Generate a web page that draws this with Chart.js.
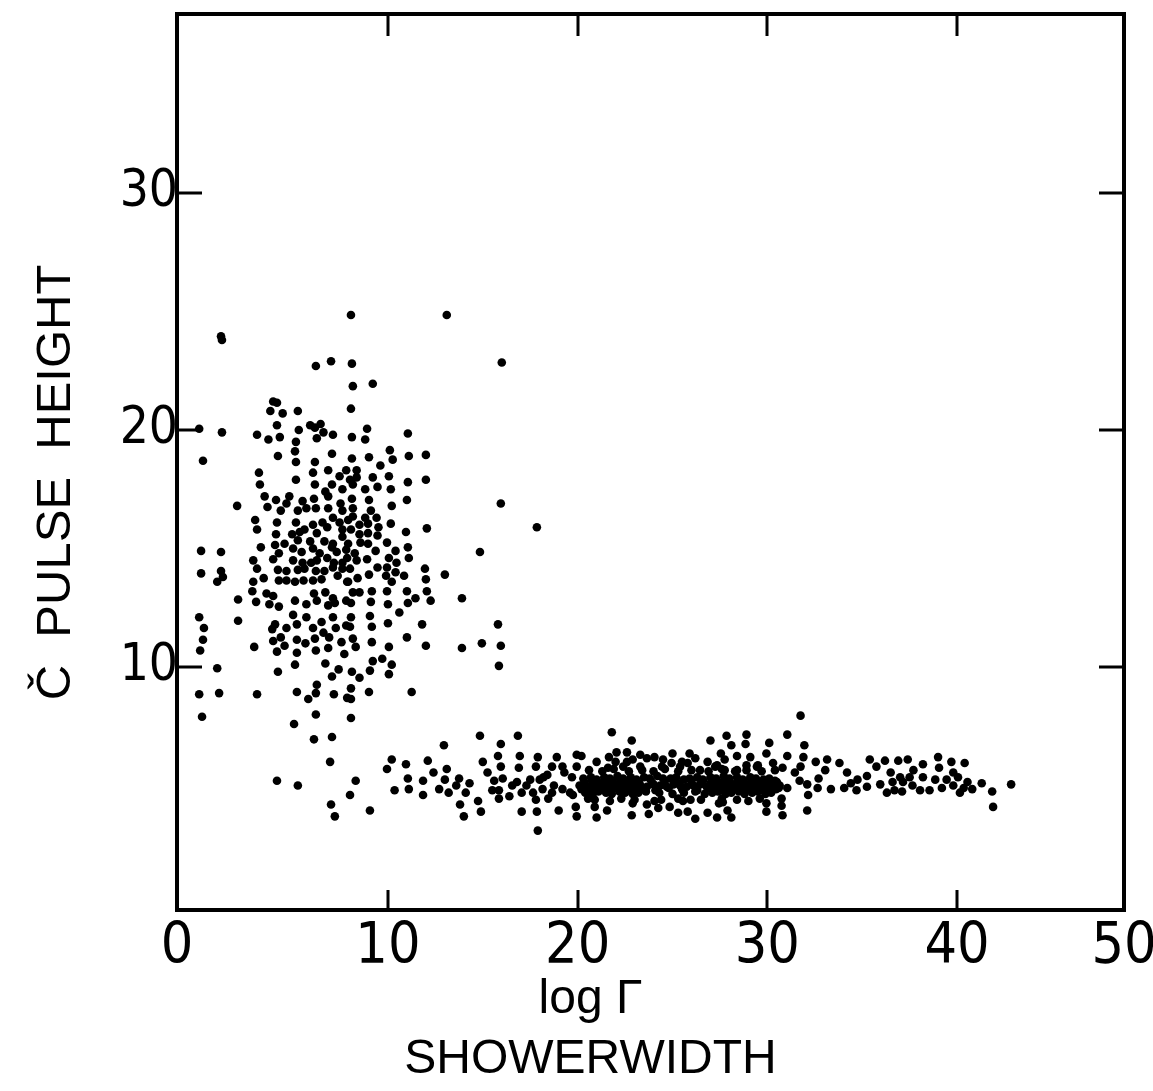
<!DOCTYPE html>
<html>
<head>
<meta charset="utf-8">
<script src="https://cdn.jsdelivr.net/npm/chart.js@4.4.1/dist/chart.umd.min.js"></script>
<style>
html,body{margin:0;padding:0;background:#fff;}
#wrap{width:1153px;height:1091px;}
</style>
</head>
<body>
<div id="wrap"><canvas id="c" width="1153" height="1091"></canvas></div>
<script>
// ---- axis definitions ----
const xTickValues = [10, 20, 30, 40];
const yTickValues = [10, 20, 30];
const xEdgeLabels = ['0', '50'];
const xRange = [-1.12, 48.8];
const yRange = [-0.25, 37.55];
const xTitle = ['log \u0393', 'SHOWERWIDTH'];
const yTitle = '\u010C  PULSE  HEIGHT';

// ---- data: [showerwidth, pulse height] ----
const clusterPoints = [
 [8.05,24.85],[1.25,23.8],[1.2,23.95],[6.2,22.7],[7.0,22.9],[3.95,21.2],[4.15,21.15],[3.8,20.8],[4.45,20.7],[5.25,20.8],
 [0.05,20.05],[1.25,19.9],[3.1,19.8],[3.7,19.6],[4.15,20.2],[4.3,19.7],[5.3,20.0],[5.9,20.2],[6.15,20.1],[6.45,20.25],
 [6.6,19.9],[7.1,19.8],[6.25,19.65],[5.15,19.5],[5.1,19.1],[0.25,18.7],[4.2,18.9],[7.05,19.0],[5.15,18.65],[6.15,18.65],
 [3.2,18.2],[5.15,17.9],[6.05,18.2],[6.85,18.3],[7.45,18.05],[7.8,18.3],[3.25,17.7],[6.15,17.7],[7.05,17.7],[7.6,17.5],
 [6.7,17.4],[6.85,17.2],[3.5,17.2],[4.1,17.05],[4.8,17.2],[4.65,16.9],[5.5,17.0],[6.1,17.1],[2.05,16.8],[3.65,16.75],
 [4.35,16.6],[5.25,16.6],[5.7,16.7],[6.2,16.7],[6.85,16.7],[7.5,16.9],[7.6,16.6],
 [13.1,24.85],[8.1,22.8],[16.0,22.85],[8.15,21.85],[9.2,21.95],[8.05,20.9],[8.9,20.05],[8.1,19.7],[8.8,19.6],[11.05,19.85],
 [10.1,19.15],[8.1,18.8],[9.0,18.85],[10.25,18.75],[11.1,18.9],[12.0,18.95],[9.6,18.5],[8.35,18.3],[8.0,17.9],[8.35,18.0],
 [8.15,17.7],[9.2,18.0],[10.05,18.05],[11.05,17.8],[12.0,17.9],[8.8,17.5],[9.45,17.6],[10.15,17.5],[8.1,17.1],[9.0,17.05],
 [11.0,17.05],[15.95,16.9],[8.15,16.7],[9.1,16.6],[10.2,16.8],[8.15,16.35],[8.8,16.3],[9.4,16.3],
 [3.0,16.2],[3.1,15.8],[4.15,16.1],[5.15,16.1],[6.05,16.0],[5.6,15.8],[6.55,16.1],[6.8,15.9],[7.1,16.3],[7.45,16.1],
 [7.6,15.8],[4.1,15.6],[4.55,15.2],[4.95,15.6],[5.35,15.7],[6.25,15.65],[5.25,15.35],[5.9,15.3],[6.65,15.3],[7.1,15.2],
 [7.6,15.5],[3.3,15.05],[4.05,15.15],[0.15,14.9],[1.2,14.85],[4.25,14.8],[5.0,15.0],[5.45,14.85],[6.05,15.0],[6.4,14.8],
 [7.05,15.05],[7.3,14.85],[7.8,14.95],[3.95,14.55],[2.9,14.5],[5.0,14.5],[5.5,14.4],[5.95,14.4],[6.25,14.5],[6.8,14.6],
 [7.15,14.4],[7.6,14.4],[3.1,14.15],[4.2,14.1],[4.65,14.05],[5.25,14.1],[5.6,14.15],[6.2,14.05],[6.65,14.05],[7.1,14.2],
 [7.6,14.15],[0.15,13.95],[1.2,14.05],[1.3,13.8],[1.0,13.6],[2.9,13.6],[3.45,13.75],[4.25,13.65],[4.65,13.65],[5.1,13.6],
 [5.55,13.65],[6.05,13.65],[6.5,13.7],[7.35,13.85],[7.85,13.6],[2.85,13.2],[3.6,13.1],[3.95,13.0],[2.1,12.85],[3.05,12.75],
 [3.75,12.65],[4.25,12.55],[5.1,12.8],[5.7,12.65],[6.1,13.1],[6.25,12.8],[6.7,13.15],[6.85,12.6],[7.1,12.9],[7.2,12.7],
 [7.8,12.8],[0.05,12.1],[2.1,11.95],[0.3,11.65],[5.0,12.2],[5.7,12.1],[5.2,11.8],[4.05,11.8],[3.9,11.6],[4.65,11.65],
 [6.05,11.65],[6.5,11.9],[7.1,12.1],[7.25,11.65],[7.8,11.75],[0.25,11.15],[3.95,11.1],[4.35,11.25],[4.55,10.9],[5.2,11.15],
 [5.65,11.0],[6.15,11.2],[6.6,11.45],[6.9,11.25],[7.55,11.05],[0.1,10.7],[2.95,10.85],[4.15,10.65],[5.2,10.6],[6.2,10.7],
 [6.85,10.8],[7.7,10.55],[1.0,9.95],[4.2,9.8],[5.1,10.1],[6.7,10.15],[7.4,9.9],[7.05,9.6],[6.25,9.25],[6.2,8.9],
 [5.2,8.95],[5.8,8.65],[7.15,8.85],[7.85,8.7],[0.05,8.85],[1.1,8.9],[3.1,8.85],[0.2,7.9],[6.2,8.0],
 [17.85,15.9],[12.05,15.85],[7.9,16.2],[8.5,16.0],[8.95,16.05],[9.5,15.9],[10.15,16.05],[8.05,15.8],[10.95,15.7],[8.5,15.6],
 [8.95,15.65],[9.45,15.55],[9.95,15.25],[8.55,15.25],[8.95,15.2],[7.9,15.2],[11.05,15.05],[14.85,14.85],[9.35,14.9],[10.4,14.9],
 [8.25,14.8],[7.85,14.6],[8.35,14.5],[8.9,14.55],[10.05,14.6],[11.1,14.6],[10.45,14.4],[8.0,14.15],[9.45,14.2],[9.95,14.2],
 [10.4,14.0],[11.95,14.15],[13.0,13.9],[7.9,13.6],[8.4,13.75],[9.0,13.9],[9.9,13.85],[10.2,13.6],[10.85,13.85],[12.0,13.7],
 [8.15,13.15],[8.5,13.15],[9.15,13.2],[9.95,13.2],[11.0,13.2],[12.05,13.2],[13.9,12.9],[11.45,12.9],[12.25,12.8],[8.05,12.7],
 [9.1,12.75],[10.0,12.65],[11.05,12.7],[10.6,12.3],[8.05,12.1],[9.05,12.15],[8.0,11.7],[9.15,11.7],[10.0,11.85],[11.8,11.8],
 [15.8,11.8],[11.0,11.25],[8.15,11.2],[8.3,10.85],[9.15,11.05],[10.05,10.85],[12.0,10.9],[13.9,10.8],[14.95,11.0],[15.95,10.9],
 [9.2,10.25],[9.7,10.35],[10.2,10.1],[15.85,10.05],[8.1,9.8],[9.05,9.85],[10.05,9.7],[8.5,9.55],[8.05,9.1],[9.0,8.95],
 [11.25,8.95],[8.05,8.65],[8.05,7.85],
 [5.05,7.6],[6.1,6.95],[7.05,7.05],[6.95,6.0],[4.15,5.2],[5.25,5.0],[8.3,5.2],[8.0,4.6],[7.0,4.2],[7.2,3.7],[9.05,3.95]
];

const bandPoints = [
 [10.2,6.1],[10.95,5.9],[9.95,5.7],[11.05,5.3],[11.1,4.85],[10.35,4.8],
 [11.85,5.2],[11.85,4.6],[12.1,6.05],[12.4,5.55],[12.7,4.85],[12.95,6.7],[13.1,5.7],[13.0,5.25],[13.2,4.7],[13.75,5.3],
 [13.6,5.0],[13.8,4.2],[14.0,3.7],[14.1,4.7],[14.3,5.1],[14.75,4.35],[14.9,3.9],[14.85,7.1],[15.0,6.0],[15.25,5.55],
 [15.6,5.2],[15.5,4.8],[15.8,6.25],[15.95,5.8],[15.95,6.75],[16.05,5.3],[15.85,4.8],[15.85,4.45],[16.55,5.0],[16.8,5.15],
 [16.85,7.1],[16.95,6.25],[16.9,5.75],[16.4,4.55],[17.05,3.9],[17.05,4.7],[17.3,5.0],[17.5,5.25],[17.85,3.9],[17.9,3.1],
 [17.9,6.2],[17.8,5.8],[17.8,4.4],[17.65,4.7],[18.0,5.25],[18.2,5.35],[18.4,5.45],[18.15,4.85],[18.65,5.8],[18.45,4.45],
 [18.65,4.7],[18.75,5.0],[18.9,6.2],[19.0,3.95],[19.2,5.8],[19.2,4.85],[19.3,5.55],[19.7,5.35],[19.6,4.7],[19.75,4.6],
 [19.95,6.3],[20.2,6.25],[19.95,5.8],[19.9,4.1],[19.95,3.7],[20.55,4.45],[20.9,4.1],[21.0,3.65],[21.55,3.95],
 [21.0,6.0],[21.65,6.2],[21.6,5.75],[22.05,6.4],[22.0,6.0],[21.8,7.25],[22.6,6.4],[22.85,6.9],[22.6,6.0],[22.4,5.8],
 [22.9,6.1],[23.3,6.3],[23.3,5.8],[22.9,4.25],[22.85,3.75],[23.65,6.15],[24.05,6.2],[24.5,6.1],[25.0,6.35],[25.5,6.0],
 [25.9,6.35],[26.2,6.15],[23.65,4.2],[23.75,3.8],[24.05,4.35],[24.25,4.05],[24.85,4.1],[25.3,3.85],[25.55,4.35],[25.8,3.9],
 [25.95,4.4],[26.2,3.6],[27.0,6.9],[27.55,6.35],[27.85,7.1],[28.1,6.7],[28.85,6.75],[28.9,7.15],[28.4,6.25],[27.75,6.1],
 [27.35,5.85],[26.85,3.85],[27.35,3.65],[27.45,4.25],[27.65,4.3],[27.9,3.95],[28.1,3.65],[29.45,5.8],
 [24.45,5.8],[24.95,5.95],[25.4,5.8],[25.8,5.95],[26.45,5.65],[26.85,6.0],[27.25,5.8],[27.75,5.65],[28.4,5.65],[28.9,5.85],
 [31.75,7.95],[30.1,6.8],[29.95,6.35],[31.05,7.15],[29.1,6.2],[29.5,5.85],[30.3,5.95],[31.95,6.7],[31.9,6.2],[31.75,5.8],
 [31.05,6.25],[30.8,5.75],[31.45,5.55],[31.7,5.2],[32.1,5.05],[32.15,4.6],[30.65,5.0],[31.05,4.9],[30.75,4.45],[29.95,4.25],
 [29.95,3.9],[30.75,4.15],[30.8,3.75],[32.1,3.95],[32.55,6.0],[33.15,6.1],[33.05,5.65],[32.7,5.3],[32.65,4.9],[33.35,4.85],
 [33.8,5.95],[34.2,5.55],[34.05,4.9],[34.4,5.1],[34.7,4.8],[34.75,5.25],[35.25,4.95],[35.25,5.4],[35.4,6.1],[35.75,5.8],
 [35.95,5.05],[36.2,6.05],[36.3,4.7],[36.5,5.55],[36.6,5.15],[36.7,4.8],[36.9,6.05],[37.0,5.35],[37.1,4.75],[37.15,5.15],
 [37.4,6.1],[37.5,5.35],[37.65,5.0],[37.7,5.65],[38.2,5.9],[38.05,4.8],[38.2,5.35],[38.55,4.8],[39.0,6.2],[39.05,5.75],
 [38.85,5.25],[39.2,4.9],[39.7,6.0],[39.8,5.55],[39.45,5.25],[39.8,5.0],[40.05,5.35],[40.4,5.95],[40.15,4.7],[40.35,4.9],
 [40.55,5.15],[40.8,4.85],[41.3,5.1],[41.85,4.75],[41.9,4.1],[42.85,5.05]
];

const corePoints = [
 [20.3,5.3],[20.7,5.35],[21.0,5.25],[21.4,5.35],[21.7,5.3],[22.1,5.4],[22.4,5.3],[22.8,5.35],[23.1,5.25],[23.5,5.35],
 [23.8,5.3],[24.2,5.4],[24.5,5.3],[24.9,5.3],[25.2,5.35],[25.6,5.25],[25.9,5.3],[26.3,5.35],[26.6,5.25],[27.0,5.35],
 [27.3,5.3],[27.7,5.4],[28.0,5.3],[28.4,5.35],[28.7,5.25],[29.1,5.35],[29.4,5.3],[29.8,5.25],[30.1,5.3],[30.4,5.2],
 [20.1,5.0],[20.5,4.95],[20.85,5.05],[21.2,5.0],[21.55,4.95],[21.9,5.05],[22.25,5.0],[22.6,4.95],[22.95,5.05],[23.3,5.0],
 [23.65,4.95],[24.0,5.05],[24.35,5.0],[24.7,4.95],[25.05,5.05],[25.4,5.0],[25.75,4.95],[26.1,5.0],[26.45,5.05],[26.8,4.95],
 [27.15,5.0],[27.5,5.05],[27.85,4.95],[28.2,5.0],[28.55,5.05],[28.9,4.95],[29.25,5.0],[29.6,5.05],[29.95,4.95],[30.3,5.0],[30.6,4.9],
 [20.4,4.7],[20.8,4.65],[21.1,4.75],[21.5,4.7],[21.8,4.65],[22.2,4.75],[22.5,4.7],[22.9,4.65],[23.2,4.7],[23.6,4.75],
 [24.3,4.7],[25.0,4.65],[25.6,4.7],[26.2,4.75],[26.7,4.65],[27.1,4.7],[27.4,4.75],[27.8,4.65],[28.1,4.7],[28.5,4.75],
 [28.8,4.65],[29.2,4.7],[29.5,4.75],[29.9,4.65],[30.2,4.7],
 [20.35,5.15],[20.75,5.2],[21.15,5.1],[21.5,5.15],[21.85,5.2],[22.2,5.1],[22.55,5.15],[22.9,5.2],[23.25,5.1],[23.9,5.15],
 [24.6,5.2],[25.3,5.1],[26.0,5.15],[26.6,5.2],[27.0,5.1],[27.35,5.15],[27.7,5.2],[28.05,5.1],[28.4,5.15],[28.75,5.2],
 [29.1,5.1],[29.45,5.15],[29.8,5.2],[30.15,5.1],[30.5,5.15],
 [20.2,4.85],[20.6,4.8],[20.95,4.9],[21.35,4.85],[21.7,4.8],[22.05,4.9],[22.4,4.85],[22.75,4.8],[23.1,4.9],[23.45,4.85],
 [24.1,4.8],[24.8,4.9],[25.5,4.85],[26.3,4.8],[26.9,4.9],[27.25,4.85],[27.6,4.8],[27.95,4.9],[28.3,4.85],[28.65,4.8],
 [29.0,4.9],[29.35,4.85],[29.7,4.8],[30.05,4.9],[30.45,4.85],
 [20.6,5.65],[21.3,5.6],[21.9,5.7],[22.7,5.6],[23.4,5.65],[24.0,5.6],[24.6,5.7],[25.3,5.6],[26.0,5.65],[26.9,5.6],
 [27.6,5.7],[28.3,5.6],[28.9,5.65],[29.7,5.6],[30.4,5.65],
 [20.9,4.4],[21.7,4.35],[22.3,4.45],[23.0,4.4],[24.4,4.4],[25.3,4.45],[26.5,4.4],[27.6,4.45],[28.4,4.4],[29.0,4.35],[29.6,4.45]
];

const toXY = arr => arr.map(p => ({x: p[0], y: p[1]}));

const framePlugin = {
  id: 'frame',
  afterDatasetsDraw(chart) {
    const {ctx, chartArea: a, scales: {x, y}} = chart;
    ctx.save();
    ctx.strokeStyle = '#000';
    ctx.lineCap = 'square';
    ctx.lineWidth = 4;
    ctx.strokeRect(a.left, a.top, a.right - a.left, a.bottom - a.top);
    ctx.lineWidth = 3;
    ctx.lineCap = 'butt';
    xTickValues.forEach(v => {
      const px = Math.round(x.getPixelForValue(v));
      ctx.beginPath();
      ctx.moveTo(px, a.bottom); ctx.lineTo(px, a.bottom - 20);
      ctx.moveTo(px, a.top); ctx.lineTo(px, a.top + 22);
      ctx.stroke();
    });
    yTickValues.forEach(v => {
      const py = Math.round(y.getPixelForValue(v));
      ctx.beginPath();
      ctx.moveTo(a.left, py); ctx.lineTo(a.left + 25, py);
      ctx.moveTo(a.right, py); ctx.lineTo(a.right - 25, py);
      ctx.stroke();
    });
    ctx.restore();
  }
};

const tickFamily = "'Liberation Sans Narrow', 'DejaVu Sans Condensed', 'Liberation Sans', sans-serif";
const pad = '         ';

const pointStyle = {
  pointRadius: 4.3,
  pointHoverRadius: 4.3,
  pointBackgroundColor: '#000',
  pointBorderWidth: 0,
  showLine: false
};

new Chart(document.getElementById('c'), {
  type: 'scatter',
  data: {
    datasets: [
      Object.assign({label: 'cluster', data: toXY(clusterPoints)}, pointStyle),
      Object.assign({label: 'band', data: toXY(bandPoints)}, pointStyle),
      Object.assign({label: 'core', data: toXY(corePoints)}, pointStyle)
    ]
  },
  options: {
    responsive: false,
    animation: false,
    devicePixelRatio: 1,
    layout: {padding: {top: 14, right: 29, left: 0, bottom: 0}},
    plugins: {legend: {display: false}, tooltip: {enabled: false}, title: {display: false}},
    scales: {
      x: {
        type: 'linear',
        min: xRange[0], max: xRange[1],
        grid: {display: false},
        border: {display: false},
        afterBuildTicks: s => {
          s.ticks = [xRange[0], ...xTickValues, xRange[1]].map(v => ({value: v}));
        },
        ticks: {
          autoSkip: false, maxRotation: 0, padding: -4, color: '#000',
          font: {family: tickFamily, size: 57, lineHeight: 1.2},
          callback: (v, i, t) => i === 0 ? xEdgeLabels[0] : (i === t.length - 1 ? xEdgeLabels[1] : String(v))
        },
        afterFit: s => { s.height = 181; s.paddingLeft = 0; s.paddingRight = 0; },
        title: {
          display: true,
          text: xTitle.map(t => t + pad),
          color: '#000',
          font: {family: "'Liberation Sans', sans-serif", size: 48, lineHeight: 60 / 48},
          padding: {top: 0, bottom: 1}
        }
      },
      y: {
        type: 'linear',
        min: yRange[0], max: yRange[1],
        grid: {display: false},
        border: {display: false},
        afterBuildTicks: s => { s.ticks = yTickValues.map(v => ({value: v})); },
        ticks: {autoSkip: false, padding: -9, color: '#000', font: {family: tickFamily, size: 51, lineHeight: 1.2}},
        afterFit: s => { s.width = 177; s.paddingTop = 0; s.paddingBottom = 0; },
        title: {
          display: true,
          text: yTitle + '   ',
          color: '#000',
          font: {family: "'Liberation Sans', sans-serif", size: 49, lineHeight: 1.2},
          padding: {top: 27, bottom: 0}
        }
      }
    }
  },
  plugins: [framePlugin]
});
</script>
</body>
</html>
